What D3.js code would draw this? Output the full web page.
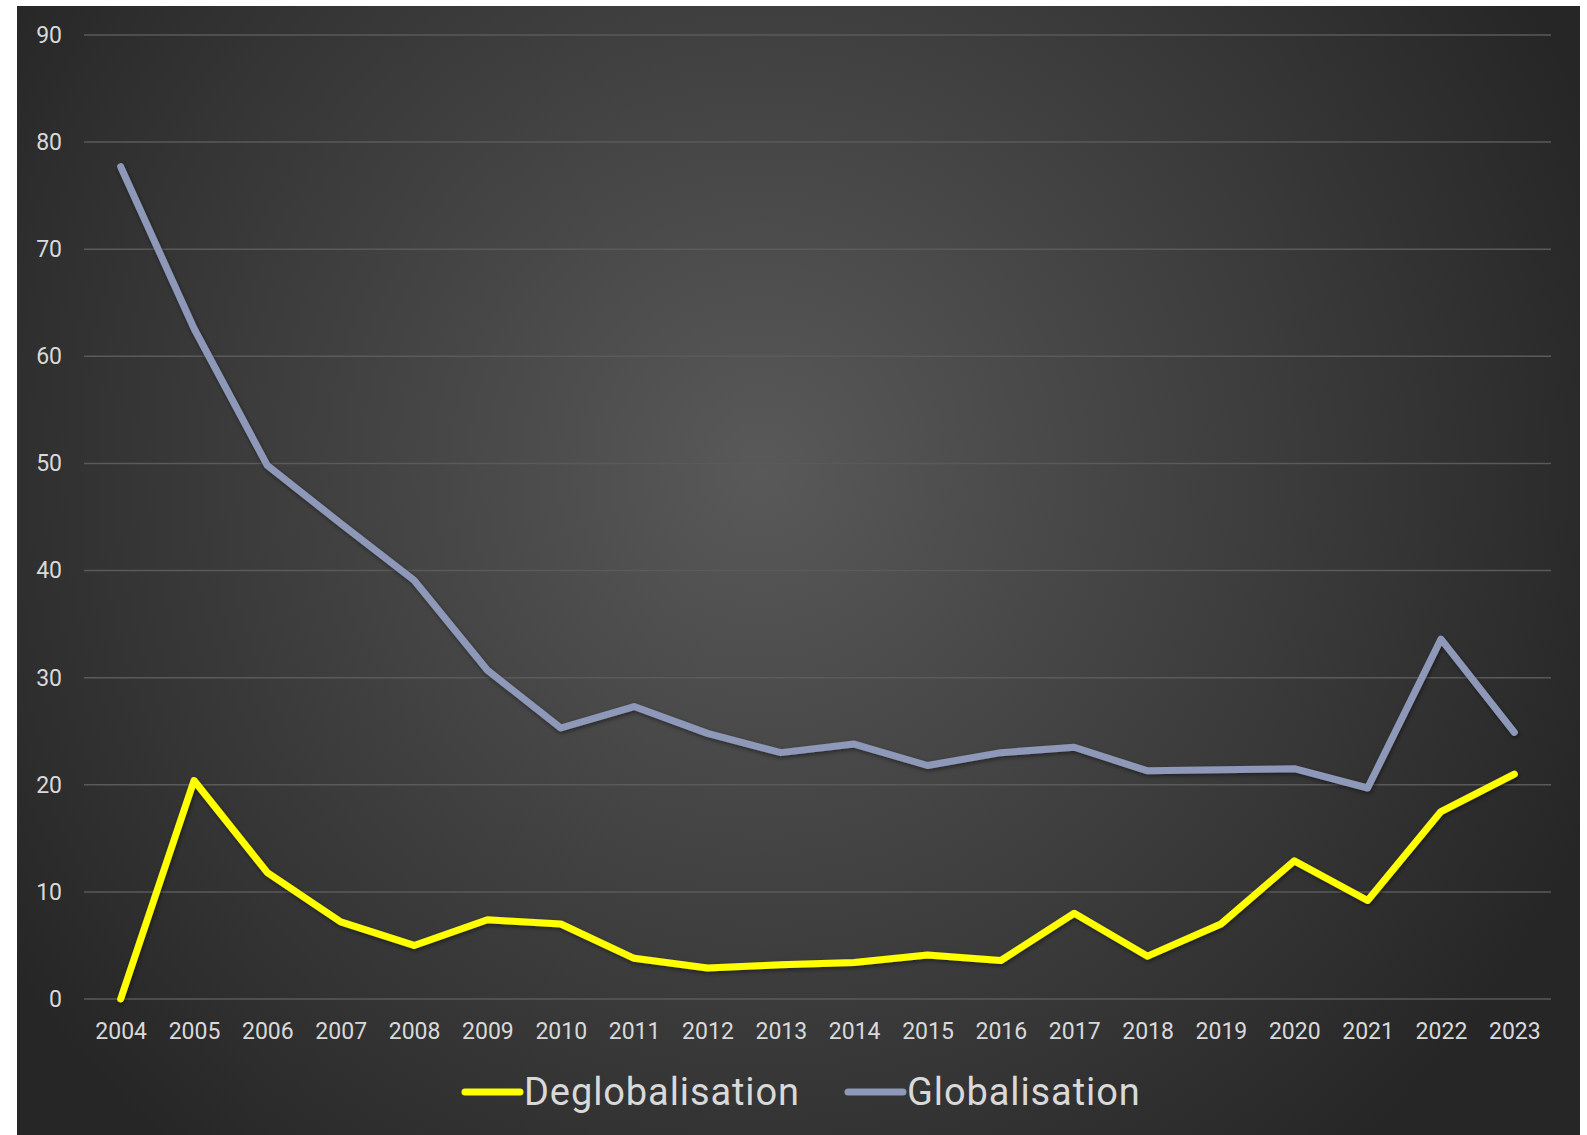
<!DOCTYPE html>
<html>
<head>
<meta charset="utf-8">
<script src="https://cdn.jsdelivr.net/npm/d3@7"></script>
<style>
  html, body { margin: 0; padding: 0; background: #ffffff; }
  svg { display: block; }
  text { font-family: Roboto, "Liberation Sans", sans-serif; }
</style>
</head>
<body>
<svg id="chart" width="1587" height="1135"></svg>
<script>
// chart values
var years = ["2004", "2005", "2006", "2007", "2008", "2009", "2010", "2011", "2012", "2013",
             "2014", "2015", "2016", "2017", "2018", "2019", "2020", "2021", "2022", "2023"];
var deglobalisation = [0, 20.4, 11.8, 7.2, 5.0, 7.4, 7.0, 3.8, 2.9, 3.2,
                       3.4, 4.1, 3.6, 8.0, 4.0, 7.0, 12.9, 9.2, 17.5, 21.0];
var globalisation = [77.7, 62.6, 49.8, 44.4, 39.1, 30.7, 25.3, 27.3, 24.8, 23.0,
                     23.8, 21.8, 23.0, 23.5, 21.3, 21.4, 21.5, 19.7, 33.6, 24.9];
var yTicks = [0, 10, 20, 30, 40, 50, 60, 70, 80, 90];
var seriesNames = ["Deglobalisation", "Globalisation"];
var seriesColors = ["#ffff00", "#8e98b8"];

var svg = d3.select("#chart");

// background panel with radial gradient
var defs = svg.append("defs");
var grad = defs.append("radialGradient")
    .attr("id", "bg")
    .attr("gradientUnits", "userSpaceOnUse")
    .attr("cx", 760).attr("cy", 470).attr("r", 900);
grad.append("stop").attr("offset", "0%").attr("stop-color", "#595959");
grad.append("stop").attr("offset", "100%").attr("stop-color", "#262626");

var shadow = defs.append("filter").attr("id", "shadow")
    .attr("x", "-10%").attr("y", "-10%").attr("width", "120%").attr("height", "120%");
shadow.append("feDropShadow")
    .attr("dx", 1).attr("dy", 2).attr("stdDeviation", 2)
    .attr("flood-color", "#000").attr("flood-opacity", 0.45);

svg.append("rect")
    .attr("x", 17).attr("y", 6)
    .attr("width", 1563).attr("height", 1129)
    .attr("fill", "url(#bg)");

var plotLeft = 84, plotRight = 1551, plotTop = 35, plotBottom = 999;

var x = d3.scalePoint().domain(years).range([plotLeft, plotRight]).padding(0.5);
var y = d3.scaleLinear().domain([0, 90]).range([plotBottom, plotTop]);

// gridlines
svg.append("g").selectAll("line")
    .data(yTicks)
    .enter()
    .append("line")
    .attr("x1", plotLeft).attr("x2", plotRight)
    .attr("y1", function (d) { return y(d); })
    .attr("y2", function (d) { return y(d); })
    .attr("stroke", "#5a5a5a")
    .attr("stroke-width", 1.5);

// y axis labels
var yAxis = svg.append("g")
    .attr("transform", "translate(" + (plotLeft - 22) + ",0)")
    .call(d3.axisLeft(y).tickValues(yTicks).tickSize(0).tickPadding(0));
yAxis.select(".domain").remove();
yAxis.selectAll("text")
    .attr("fill", "#d9d9d9")
    .style("font-size", "23px")
    .style("font-family", "Roboto, sans-serif");

// x axis labels
var xAxis = svg.append("g")
    .attr("transform", "translate(0," + (plotBottom + 20) + ")")
    .call(d3.axisBottom(x).tickSize(0).tickPadding(4));
xAxis.select(".domain").remove();
xAxis.selectAll("text")
    .attr("fill", "#d9d9d9")
    .style("font-size", "23px")
    .style("font-family", "Roboto, sans-serif");

// lines
var line = d3.line()
    .x(function (d, i) { return x(years[i]); })
    .y(function (d) { return y(d); });

var allSeries = [deglobalisation, globalisation];
// draw globalisation first so yellow sits on top
[1, 0].forEach(function (k) {
    svg.append("path")
        .datum(allSeries[k])
        .attr("d", line)
        .attr("fill", "none")
        .attr("stroke", seriesColors[k])
        .attr("stroke-width", 7)
        .attr("stroke-linejoin", "round")
        .attr("stroke-linecap", "round")
        .attr("filter", "url(#shadow)");
});

// legend
var legendX = [465, 848];
var legend = svg.append("g").selectAll("g")
    .data(seriesNames)
    .enter()
    .append("g")
    .attr("transform", function (d, i) { return "translate(" + legendX[i] + ",1092)"; });
legend.append("line")
    .attr("x1", 0).attr("x2", 55)
    .attr("y1", 0).attr("y2", 0)
    .attr("stroke", function (d, i) { return seriesColors[i]; })
    .attr("stroke-width", 7)
    .attr("stroke-linecap", "round");
legend.append("text")
    .attr("x", 59)
    .attr("y", 13)
    .attr("fill", "#d9d9d9")
    .style("font-size", "38px")
    .style("letter-spacing", "0.9px")
    .text(function (d) { return d; });
</script>
</body>
</html>
